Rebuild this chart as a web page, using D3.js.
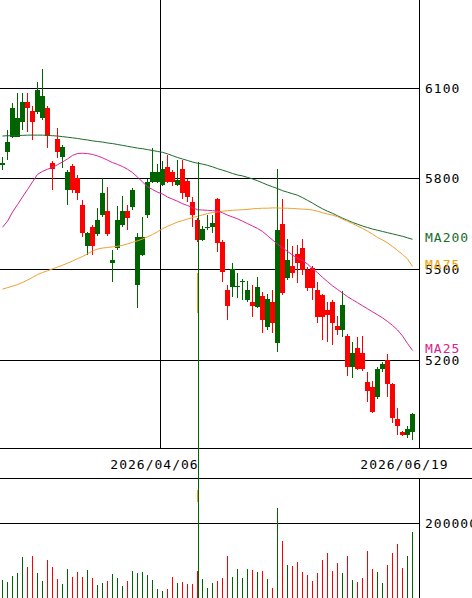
<!DOCTYPE html>
<html>
<head>
<meta charset="utf-8">
<script src="https://cdn.jsdelivr.net/npm/d3@7"></script>
<style>
  body { margin: 0; background: #fff; }
  svg { display: block; }
  text { font-family: "DejaVu Sans Mono", monospace; font-size: 13px; letter-spacing: 1px; }
</style>
</head>
<body>
<svg width="472" height="598"></svg>
<script>
// daily candles, oldest first
var open  = [5845,5890,5940,5940,5989,6056,6026,6023,6001,6034, 5852,5932,5872,5763,5843,5802,5714,5578,5640,5618,
             5680,5695,5521,5570,5647,5695,5706,5449,5548,5680, 5791,5791,5780,5840,5824,5780,5832,5794,5725,5664,
             5598,5638,5641,5732,5592,5432,5443,5441,5458,5399, 5393,5377,5412,5311,5393,5258,5651,5471,5512,5551,
             5570,5498,5504,5432,5416,5366,5393,5313,5300,5280, 5178,5239,5223,5129,5112,5079,5170,5200,5121,5004,
             4963,4952,4963];
var high  = [5872,5962,6052,6083,6083,6083,6040,6122,6163,6040, 5860,5970,5912,5828,5850,5813,5730,5625,5647,5703,
             5802,5774,5565,5710,5743,5714,5770,5620,5675,5800, 5901,5850,5860,5879,5830,5863,5863,5800,5741,5670,
             5644,5680,5680,5738,5598,5449,5521,5488,5468,5463, 5449,5476,5427,5420,5432,5832,5732,5600,5578,5581,
             5600,5508,5510,5459,5420,5393,5400,5345,5430,5285, 5261,5278,5280,5162,5131,5178,5195,5220,5125,5041,
             4966,4982,5025];
var low   = [5829,5863,5935,5938,5962,5956,5929,6015,5995,5901, 5763,5868,5835,5714,5755,5730,5608,5548,5548,5610,
             5675,5612,5460,5565,5640,5630,5697,5372,5545,5672, 5785,5785,5775,5785,5777,5775,5733,5725,5641,5590,
             5595,5631,5621,5559,5460,5333,5410,5405,5400,5393, 5344,5372,5289,5300,5289,5228,5415,5465,5471,5454,
             5482,5430,5399,5322,5267,5261,5250,5283,5278,5147, 5140,5167,5165,5062,5025,5070,5160,5079,4993,4952,
             4948,4941,4936];
var close = [5852,5923,6034,6001,6056,6034,5989,6094,6075,5942, 5832,5890,5907,5822,5763,5752,5620,5620,5578,5664,
             5754,5618,5532,5664,5695,5670,5763,5609,5609,5791, 5824,5824,5832,5791,5791,5796,5752,5741,5680,5598,
             5633,5642,5654,5587,5493,5379,5501,5445,5462,5432, 5380,5443,5333,5401,5322,5631,5421,5532,5489,5521,
             5498,5438,5438,5342,5342,5350,5322,5300,5383,5178, 5223,5170,5170,5099,5029,5170,5187,5121,5007,4982,
             4952,4971,5022];
var volume = [480000,436000,597000,677000,1106000,838000,1133000,677000,455000,1017000,
              838000,509000,375000,776000,570000,704000,554000,750000,544000,348000,
              410000,463000,643000,544000,329000,455000,723000,677000,704000,616000,
              482000,241000,187000,241000,570000,394000,436000,375000,375000,723000,
              509000,276000,410000,463000,544000,1133000,570000,776000,544000,776000,
              750000,704000,723000,509000,276000,2402000,1526000,884000,857000,972000,
              688000,616000,455000,661000,1017000,1197000,723000,929000,661000,1124000,
              482000,420000,544000,1258000,776000,704000,394000,884000,1197000,1438000,
              811000,1124000,1759000];

var ma25  = [5640,5660,5690,5715,5740,5765,5790,5815,5825,5832, 5838,5847,5856,5866,5878,5884,5885,5884,5881,5876,
             5870,5862,5854,5848,5841,5832,5821,5806,5790,5774, 5765,5756,5750,5740,5733,5726,5718,5712,5705,5698,
             5697,5696,5695,5693,5688,5680,5674,5668,5660,5652, 5644,5636,5626,5612,5598,5584,5572,5560,5548,5537,
             5530,5518,5503,5490,5474,5460,5446,5434,5422,5410, 5400,5390,5380,5370,5360,5350,5340,5328,5315,5300,
             5280,5255,5232];
var ma75  = [5435,5440,5445,5450,5457,5465,5474,5483,5490,5496, 5502,5508,5514,5521,5528,5536,5543,5552,5561,5568,
             5571,5573,5575,5577,5580,5585,5590,5595,5601,5608, 5616,5625,5635,5643,5650,5657,5662,5667,5672,5676,
             5681,5685,5689,5691,5693,5695,5696,5697,5698,5699, 5701,5702,5703,5703,5704,5704,5703,5703,5702,5701,
             5700,5699,5697,5693,5688,5684,5680,5675,5667,5660, 5652,5644,5636,5627,5617,5606,5598,5588,5576,5563,
             5550,5535,5510];
var ma200 = [5942,5943,5943,5944,5944,5945,5945,5945,5945,5944, 5943,5942,5940,5938,5936,5934,5931,5929,5926,5924,
             5922,5919,5917,5914,5911,5908,5905,5902,5900,5897, 5894,5891,5888,5883,5877,5871,5866,5861,5856,5852,
             5849,5845,5840,5834,5829,5824,5818,5813,5810,5805, 5800,5794,5787,5780,5774,5768,5761,5756,5751,5746,
             5738,5729,5720,5710,5701,5693,5686,5678,5670,5663, 5656,5650,5644,5639,5634,5630,5626,5622,5618,5614,
             5610,5605,5600];

// bad tick on day 39: a green line running off the chart, and a broken MA75 piece
var spikeAt = 39.6, spikeHigh = 5857, spikeLow = 3000;
var glitch75 = [[5356, 5490], [4730, 4770]];

var priceTicks = [6100, 5800, 5500, 5200];
var volumeTicks = [2000000];
var dateLabels = ["2026/04/06", "2026/06/19"];
var dateGridAt = [32.1, 83.9];
var dateLabelAt = [30.9, 80.9];

var svg = d3.select("svg"),
    width = +svg.attr("width"),
    height = +svg.attr("height"),
    priceBottom = 448,
    dateBottom = 478;

var x = d3.scaleLinear().domain([0, 83.9]).range([0, 419.5]);
var y = d3.scaleLinear().domain([4909, 6392.4]).range([priceBottom, 0]);
var yv = d3.scaleLinear().domain([0, 2000000]).range([598, 523.3]);
var right = x(83.9);

var up = "#006400", down = "#ff0000";
var colors = { ma25: "#dd2299", ma75: "#f0a030", ma200: "#1a6a2a" };
var px = function(v) { return Math.floor(v) + 0.5; };

// grid and frame
var grid = svg.append("g").attr("stroke", "#000").attr("shape-rendering", "crispEdges");
grid.selectAll(".hg").data(priceTicks).enter().append("line")
    .attr("x1", 0).attr("x2", right)
    .attr("y1", function(d) { return px(y(d)); }).attr("y2", function(d) { return px(y(d)); });
grid.selectAll(".vg").data(dateGridAt).enter().append("line")
    .attr("x1", function(d) { return px(x(d)); }).attr("x2", function(d) { return px(x(d)); })
    .attr("y1", 0).attr("y2", priceBottom);
grid.selectAll(".vhg").data(volumeTicks).enter().append("line")
    .attr("x1", 0).attr("x2", right)
    .attr("y1", function(d) { return px(yv(d)); }).attr("y2", function(d) { return px(yv(d)); });
grid.append("line").attr("x1", px(right)).attr("x2", px(right)).attr("y1", 0).attr("y2", priceBottom);
grid.append("line").attr("x1", px(right)).attr("x2", px(right)).attr("y1", dateBottom).attr("y2", height);
grid.append("line").attr("x1", 0).attr("x2", width).attr("y1", priceBottom + 0.5).attr("y2", priceBottom + 0.5);
grid.append("line").attr("x1", 0).attr("x2", width).attr("y1", dateBottom + 0.5).attr("y2", dateBottom + 0.5);

// candles
var idx = d3.range(open.length);
var col = function(i) { return close[i] >= open[i] ? up : down; };
var candles = svg.append("g").attr("shape-rendering", "crispEdges");
candles.selectAll(".wick").data(idx).enter().append("rect")
    .attr("x", function(i) { return x(i) + 2; })
    .attr("width", 1)
    .attr("y", function(i) { return Math.round(y(high[i])); })
    .attr("height", function(i) { return Math.max(1, Math.round(y(low[i])) - Math.round(y(high[i]))); })
    .attr("fill", col);
candles.selectAll(".body").data(idx).enter().append("rect")
    .attr("x", function(i) { return x(i); })
    .attr("width", 5)
    .attr("y", function(i) { return Math.round(y(Math.max(open[i], close[i]))); })
    .attr("height", function(i) {
      return Math.max(1, Math.round(y(Math.min(open[i], close[i]))) - Math.round(y(Math.max(open[i], close[i]))));
    })
    .attr("fill", col);

// volume
svg.append("g").attr("shape-rendering", "crispEdges")
  .selectAll("rect").data(idx).enter().append("rect")
    .attr("x", function(i) { return x(i) + 2; })
    .attr("width", 1)
    .attr("y", function(i) { return Math.round(yv(volume[i])); })
    .attr("height", function(i) { return height - Math.round(yv(volume[i])); })
    .attr("fill", col);

// moving averages
var line = d3.line().x(function(d, i) { return x(i) + 2.5; }).y(function(d) { return y(d); });
[["ma200", ma200], ["ma75", ma75], ["ma25", ma25]].forEach(function(m) {
  svg.append("path").datum(m[1])
    .attr("d", line).attr("fill", "none")
    .attr("stroke", colors[m[0]]).attr("stroke-width", 1);
});

// the bad tick
svg.append("g").attr("shape-rendering", "crispEdges").attr("stroke", colors.ma75)
  .selectAll("line").data(glitch75).enter().append("line")
    .attr("x1", px(x(spikeAt)) - 1).attr("x2", px(x(spikeAt)) - 1)
    .attr("y1", function(d) { return y(d[1]); }).attr("y2", function(d) { return y(d[0]); });
svg.append("line").attr("shape-rendering", "crispEdges")
    .attr("x1", px(x(spikeAt))).attr("x2", px(x(spikeAt)))
    .attr("y1", y(spikeHigh)).attr("y2", y(spikeLow))
    .attr("stroke", up);

// labels
var lab = svg.append("g");
lab.selectAll(".pt").data(priceTicks).enter().append("text")
    .attr("x", 425).attr("y", function(d) { return y(d); }).attr("dy", "0.35em")
    .text(function(d) { return d; });
lab.selectAll(".vt").data(volumeTicks).enter().append("text")
    .attr("x", 425).attr("y", function(d) { return yv(d); }).attr("dy", "0.35em")
    .text(function(d) { return d; });
lab.selectAll(".dt").data(dateLabels).enter().append("text")
    .attr("x", function(d, i) { return x(dateLabelAt[i]); }).attr("y", 464).attr("dy", "0.35em")
    .attr("text-anchor", "middle")
    .text(function(d) { return d; });
[["MA200", ma200, colors.ma200], ["MA75", ma75, "#f0a000"], ["MA25", ma25, "#e0208a"]].forEach(function(m) {
  lab.append("text")
    .attr("x", 425).attr("y", y(m[1][m[1].length - 1]) - 2).attr("dy", "0.35em")
    .attr("fill", m[2])
    .text(m[0]);
});
</script>
</body>
</html>
